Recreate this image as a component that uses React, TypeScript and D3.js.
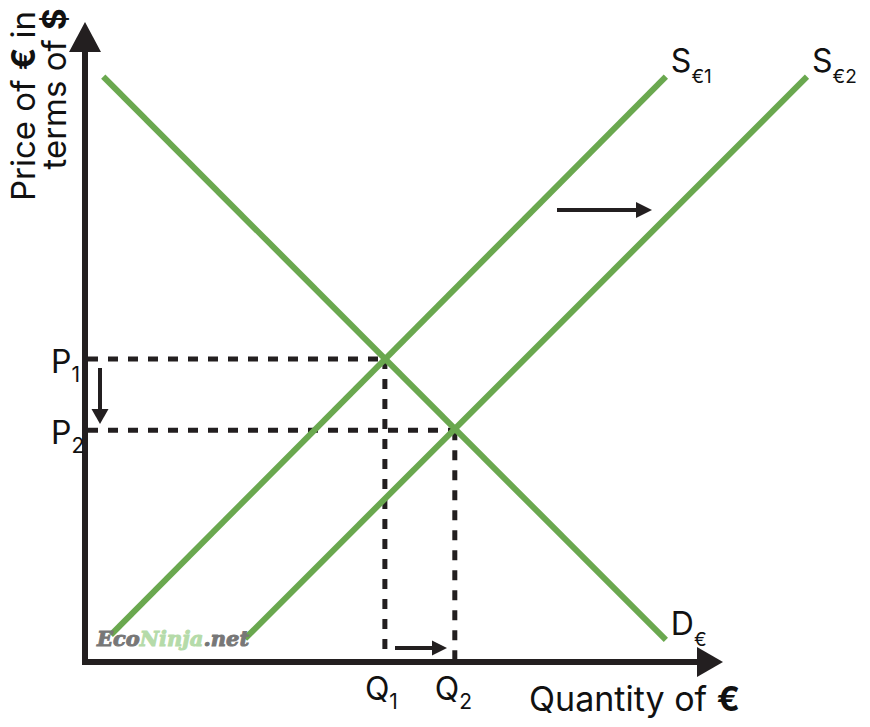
import React, { useEffect, useRef } from 'react';
import * as d3 from 'd3';

// line endpoints (quantity, price)
const demand = [{ q: 2.9, p: 92.9 }, { q: 92.2, p: 3.5 }];
const supply1 = [{ q: 4.1, p: 4.3 }, { q: 92.2, p: 92.9 }];
const supply2 = [{ q: 25.4, p: 3.7 }, { q: 114.6, p: 92.9 }];
const equilibria = [
  { sub: '1', q: 47.6, p: 48.1 },
  { sub: '2', q: 58.7, p: 36.8 },
];
const curveLabels = [
  { main: 'S', sub: '€1', q: 92.2, p: 92.9 },
  { main: 'S', sub: '€2', q: 114.6, p: 92.9 },
  { main: 'D', sub: '€', q: 92.2, p: 3.5 },
];

const W = 870;
const H = 727;
const GREEN = '#6aa84f';
const INK = '#231f20';
const FONT = 'Inter, "Noto Sans", sans-serif';

const App = () => {
  const svgRef = useRef<SVGSVGElement>(null);

  useEffect(() => {
    const svg = d3.select(svgRef.current);
    svg.selectAll('*').remove();

    const x = d3.scaleLinear().domain([0, 100]).range([85, 715]);
    const y = d3.scaleLinear().domain([0, 100]).range([662, 32]);
    const line = d3.line<{ q: number; p: number }>().x(d => x(d.q)).y(d => y(d.p));

    // dashed guides
    equilibria.forEach(e => {
      svg.append('line')
        .attr('x1', x(0) + 3).attr('x2', x(e.q))
        .attr('y1', y(e.p)).attr('y2', y(e.p))
        .attr('stroke', INK).attr('stroke-width', 5)
        .attr('stroke-dasharray', '10,10');
      svg.append('line')
        .attr('x1', x(e.q)).attr('x2', x(e.q))
        .attr('y1', y(e.p)).attr('y2', y(0))
        .attr('stroke', INK).attr('stroke-width', 5)
        .attr('stroke-dasharray', '10,10');
    });

    // curves
    [demand, supply1, supply2].forEach(d => {
      svg.append('path')
        .attr('d', line(d))
        .attr('fill', 'none')
        .attr('stroke', GREEN)
        .attr('stroke-width', 6);
    });

    // axes
    svg.append('line')
      .attr('x1', x(0)).attr('x2', x(0))
      .attr('y1', y(0) + 3).attr('y2', 50)
      .attr('stroke', INK).attr('stroke-width', 6);
    svg.append('path')
      .attr('d', `M${x(0) - 16},52 L${x(0) + 16},52 L${x(0)},22 Z`)
      .attr('fill', INK);
    svg.append('line')
      .attr('x1', x(0) - 3).attr('x2', 700)
      .attr('y1', y(0)).attr('y2', y(0))
      .attr('stroke', INK).attr('stroke-width', 6);
    svg.append('path')
      .attr('d', `M697,${y(0) - 15} L697,${y(0) + 15} L723,${y(0)} Z`)
      .attr('fill', INK);

    // shift arrows
    const arrow = (x1: number, y1: number, x2: number, y2: number, head: number, hw: number) => {
      const a = Math.atan2(y2 - y1, x2 - x1);
      const bx = x2 - head * Math.cos(a);
      const by = y2 - head * Math.sin(a);
      svg.append('line')
        .attr('x1', x1).attr('y1', y1).attr('x2', bx).attr('y2', by)
        .attr('stroke', INK).attr('stroke-width', 4);
      const px = -Math.sin(a) * hw;
      const py = Math.cos(a) * hw;
      svg.append('path')
        .attr('d', `M${bx + px},${by + py} L${bx - px},${by - py} L${x2},${y2} Z`)
        .attr('fill', INK);
    };
    arrow(557, 210, 652, 210, 16, 8);
    arrow(395, 648, 447, 648, 15, 7.5);
    arrow(100, 368, 100, 424, 15, 8.5);

    // curve labels
    curveLabels.forEach(c => {
      const t = svg.append('text')
        .attr('x', x(c.q) + 5)
        .attr('y', y(c.p) - 5)
        .attr('font-family', FONT)
        .attr('font-size', 32)
        .attr('fill', '#111');
      t.append('tspan').text(c.main);
      t.append('tspan').attr('dy', 11).attr('font-size', 19).text(c.sub);
    });

    // P and Q labels
    equilibria.forEach(e => {
      const tp = svg.append('text')
        .attr('x', 51).attr('y', y(e.p) + 14)
        .attr('font-family', FONT).attr('font-size', 32).attr('fill', '#111');
      tp.append('tspan').text('P');
      tp.append('tspan').attr('dy', 9).attr('font-size', 21).text(e.sub);

      const tq = svg.append('text')
        .attr('x', x(e.q) - 20).attr('y', 700)
        .attr('font-family', FONT).attr('font-size', 32).attr('fill', '#111');
      tq.append('tspan').text('Q');
      tq.append('tspan').attr('dy', 9).attr('font-size', 21).text(e.sub);
    });

    // axis titles
    const xt = svg.append('text')
      .attr('x', 740).attr('y', 711)
      .attr('text-anchor', 'end')
      .attr('font-family', FONT).attr('font-size', 34).attr('fill', '#111');
    xt.append('tspan').text('Quantity of ');
    xt.append('tspan').attr('font-weight', 'bold').text('€');

    const yl1 = svg.append('text')
      .attr('transform', 'translate(35,106) rotate(-90)')
      .attr('text-anchor', 'middle')
      .attr('font-family', FONT).attr('font-size', 33).attr('fill', '#111');
    yl1.append('tspan').text('Price of ');
    yl1.append('tspan').attr('font-weight', 'bold').text('€');
    yl1.append('tspan').text(' in');

    const yl2 = svg.append('text')
      .attr('transform', 'translate(66,89) rotate(-90)')
      .attr('text-anchor', 'middle')
      .attr('font-family', FONT).attr('font-size', 33).attr('fill', '#111');
    yl2.append('tspan').text('terms of ');
    yl2.append('tspan').attr('font-weight', 'bold').text('$');

    // watermark
    const wm = svg.append('text')
      .attr('x', 97).attr('y', 646)
      .attr('font-family', '"DejaVu Serif", serif')
      .attr('font-size', 21)
      .attr('font-weight', 'bold')
      .attr('font-style', 'italic')
      .attr('stroke-width', 1);
    wm.append('tspan').attr('fill', '#777').attr('stroke', '#777').text('Eco');
    wm.append('tspan').attr('fill', '#b5dba9').attr('stroke', '#b5dba9').text('Ninja');
    wm.append('tspan').attr('fill', '#777').attr('stroke', '#777').text('.net');
  }, []);

  return (
    <svg
      ref={svgRef}
      width={W}
      height={H}
      style={{ position: 'absolute', left: 0, top: 0, background: '#fff' }}
    />
  );
};

export default App;
